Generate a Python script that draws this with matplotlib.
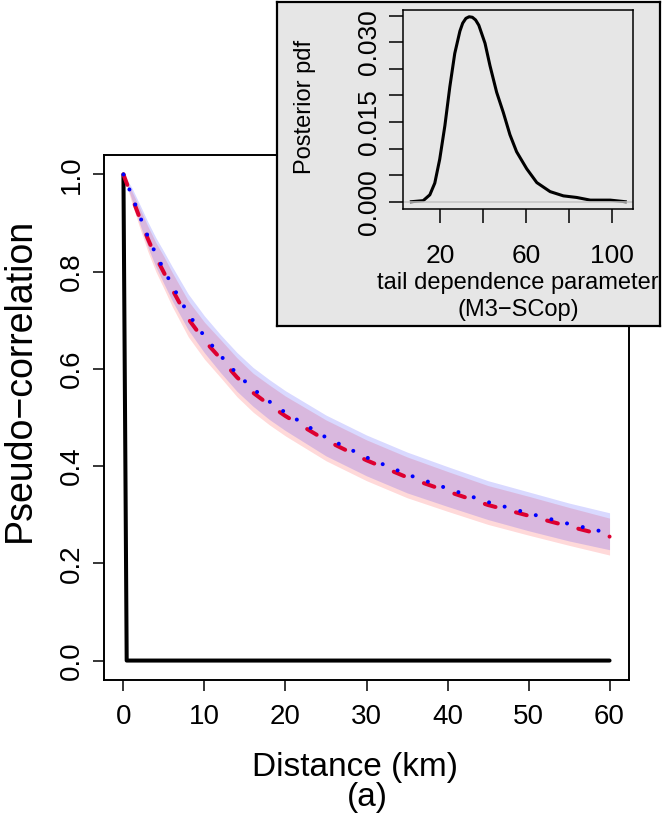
import matplotlib.pyplot as plt

plt.rcParams["font.family"] = ["Liberation Sans", "DejaVu Sans"]

# main panel: pseudo-correlation vs distance
distance = [0, 1, 2, 3, 4, 5, 6, 8, 10, 12, 14, 16, 18, 20, 25, 30, 35, 40, 45, 50, 55, 60]
red_mean = [1.0, 0.955, 0.911, 0.868, 0.830, 0.798, 0.764, 0.703, 0.658, 0.621, 0.583,
            0.551, 0.526, 0.503, 0.453, 0.412, 0.377, 0.348, 0.320, 0.298, 0.276, 0.255]
red_lo = [1.0, 0.943, 0.891, 0.842, 0.800, 0.765, 0.729, 0.666, 0.620, 0.582, 0.543,
          0.511, 0.485, 0.462, 0.411, 0.370, 0.335, 0.307, 0.280, 0.258, 0.237, 0.217]
red_hi = [1.0, 0.967, 0.931, 0.894, 0.860, 0.831, 0.799, 0.740, 0.696, 0.660, 0.623,
          0.591, 0.567, 0.544, 0.495, 0.454, 0.419, 0.389, 0.360, 0.338, 0.315, 0.293]
blue_mean = [1.0, 0.958, 0.915, 0.873, 0.836, 0.804, 0.772, 0.713, 0.667, 0.627, 0.590,
             0.559, 0.533, 0.510, 0.459, 0.418, 0.383, 0.354, 0.326, 0.303, 0.281, 0.262]
blue_lo = [1.0, 0.950, 0.899, 0.851, 0.810, 0.775, 0.741, 0.680, 0.633, 0.592, 0.554,
           0.523, 0.496, 0.473, 0.421, 0.380, 0.345, 0.317, 0.290, 0.267, 0.246, 0.228]
blue_hi = [1.0, 0.974, 0.939, 0.903, 0.870, 0.841, 0.811, 0.754, 0.709, 0.670, 0.634,
           0.603, 0.578, 0.555, 0.505, 0.464, 0.429, 0.399, 0.370, 0.347, 0.324, 0.304]
black_x = [0, 0.4, 60]
black_y = [1.0, 0.0, 0.0]

x_ticks = [0, 10, 20, 30, 40, 50, 60]
y_ticks = [0.0, 0.2, 0.4, 0.6, 0.8, 1.0]

# inset: posterior density of tail dependence parameter
theta = [6.6, 12.1, 15.2, 17.5, 19.8, 22.2, 24.5, 26.8, 29.2, 30.5, 32.0, 33.5, 35.0,
         36.5, 38.0, 40.9, 43.2, 46.3, 49.4, 52.5, 55.6, 60.3, 65.0, 71.2, 77.4, 83.6,
         89.9, 99.2, 106.2]
dens = [0.0, 0.0002, 0.0013, 0.0035, 0.0080, 0.0143, 0.0216, 0.0279, 0.0321, 0.0336,
        0.0345, 0.0348, 0.0347, 0.0342, 0.0332, 0.0298, 0.0256, 0.0206, 0.0168, 0.0126,
        0.0094, 0.0062, 0.0036, 0.0019, 0.0011, 0.0008, 0.0003, 0.0003, 0.0]
inset_xticks = [20, 40, 60, 80, 100]
inset_xlabels = ["20", "", "60", "", "100"]
inset_yticks = [0.0, 0.005, 0.010, 0.015, 0.020, 0.025, 0.030, 0.035]
inset_ylabels = ["0.000", "", "", "0.015", "", "", "0.030", ""]

W, H = 671, 813
fig = plt.figure(figsize=(W / 100, H / 100), dpi=100)


def rect(x0, y0, x1, y1):
    # pixel box (top-left origin) -> figure fraction
    return [x0 / W, (H - y1) / H, (x1 - x0) / W, (y1 - y0) / H]


ax = fig.add_axes(rect(104, 155, 629, 680))
ax.fill_between(distance, red_lo, red_hi, color=(1, 0, 0, 0.15), lw=0)
ax.fill_between(distance, blue_lo, blue_hi, color=(0, 0, 1, 0.15), lw=0)
ax.plot(black_x, black_y, color="black", lw=2.9, solid_capstyle="round")
ax.plot(distance, red_mean, color="#DD0030", lw=2.9,
        linestyle=(0, (2.75, 5.25)), dash_capstyle="round")
ax.plot(distance, blue_mean, color="#0000FF", lw=2.9,
        linestyle=(0, (0.01, 4.0)), dash_capstyle="round")
ax.set_xlim(-2.4, 62.4)
ax.set_ylim(-0.04, 1.04)
ax.set_xticks(x_ticks)
ax.set_xticklabels([str(t) for t in x_ticks])
ax.set_yticks(y_ticks)
ax.set_yticklabels(["%.1f" % t for t in y_ticks], rotation=90, va="center")
ax.tick_params(length=8, width=1.1, labelsize=20)
ax.tick_params(axis="x", pad=9)
ax.tick_params(axis="y", pad=6)
for s in ax.spines.values():
    s.set_linewidth(1.4)
ax.set_xlabel("Distance (km)", fontsize=24, va="center")
ax.xaxis.set_label_coords(0.478, -0.166)
ax.set_ylabel("Pseudo\u2212correlation", fontsize=27, va="center")
ax.yaxis.set_label_coords(-0.16, 0.571)
fig.text(367 / W, 1 - 797 / H, "(a)", fontsize=24, ha="center", va="center")

# gray inset box
box = fig.add_axes(rect(277, 2, 660, 326))
box.set_facecolor("#E6E6E6")
box.set_xticks([])
box.set_yticks([])
for s in box.spines.values():
    s.set_linewidth(1.6)

ins = fig.add_axes(rect(403, 10, 633, 209))
ins.set_facecolor("#E6E6E6")
ins.plot(theta, dens, color="black", lw=2.2)
ins.axhline(0, color="#C4C4C4", lw=1.1)
ins.set_xlim(2.7, 109.8)
ins.set_ylim(-0.00137, 0.03607)
ins.set_xticks(inset_xticks)
ins.set_xticklabels(inset_xlabels)
ins.set_yticks(inset_yticks)
ins.set_yticklabels(inset_ylabels, rotation=90, va="center")
ins.tick_params(length=10, width=1.1, labelsize=19)
ins.tick_params(axis="x", pad=15)
ins.tick_params(axis="y", pad=6)
for s in ins.spines.values():
    s.set_linewidth(1.1)
ins.set_xlabel("tail dependence parameter", fontsize=17, va="center")
ins.xaxis.set_label_coords(0.5, -0.372)
ins.text(0.5, -0.508, "(M3\u2212SCop)", transform=ins.transAxes, fontsize=17,
         ha="center", va="center")
ins.set_ylabel("Posterior pdf", fontsize=17, va="center")
ins.yaxis.set_label_coords(-0.426, 0.513)

fig.savefig("out.png", dpi=100)
